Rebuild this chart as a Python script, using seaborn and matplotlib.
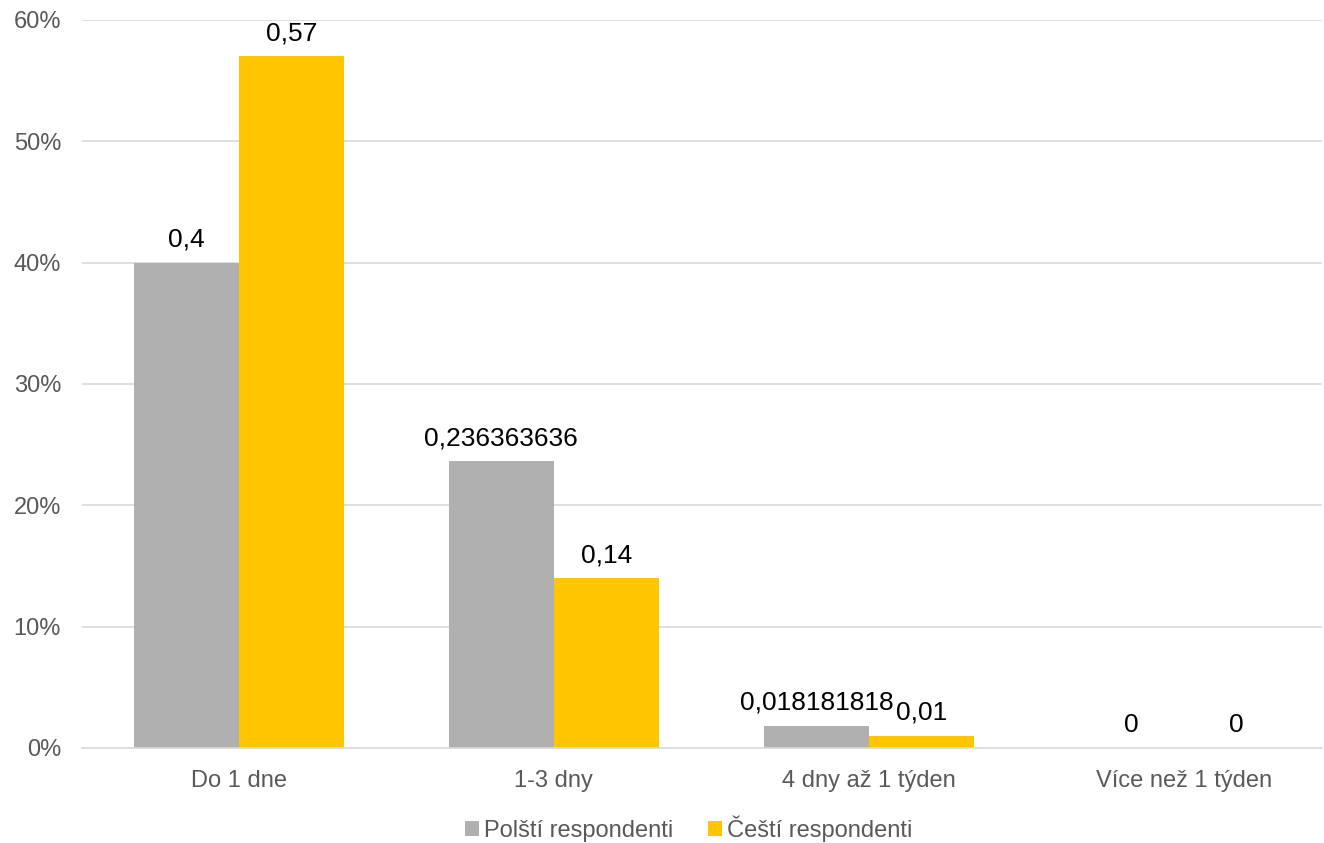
import matplotlib
matplotlib.use("Agg")
import matplotlib.pyplot as plt
from matplotlib.patches import Patch
import seaborn as sns
import pandas as pd

categories = ["Do 1 dne", "1-3 dny", "4 dny až 1 týden", "Více než 1 týden"]
series_names = ["Polští respondenti", "Čeští respondenti"]
polish = [0.4, 0.236363636, 0.018181818, 0.0]
czech = [0.57, 0.14, 0.01, 0.0]
polish_labels = ["0,4", "0,236363636", "0,018181818", "0"]
czech_labels = ["0,57", "0,14", "0,01", "0"]
y_ticks = [0.0, 0.1, 0.2, 0.3, 0.4, 0.5, 0.6]
y_tick_labels = ["0%", "10%", "20%", "30%", "40%", "50%", "60%"]

colors = ["#B0B0B0", "#FFC600"]

df = pd.DataFrame({
    "kategorie": categories * 2,
    "skupina": [series_names[0]] * 4 + [series_names[1]] * 4,
    "podil": polish + czech,
})

sns.set_theme(style="white")
plt.rcParams["font.family"] = ["Liberation Sans", "DejaVu Sans"]

fig = plt.figure(figsize=(13.24, 8.43), dpi=100)
ax = fig.add_axes([0.0619, 0.1127, 0.9366, 0.8636])

sns.barplot(data=df, x="kategorie", y="podil", hue="skupina",
            order=categories, hue_order=series_names,
            palette=colors, width=0.667, saturation=1, linewidth=0,
            ax=ax, legend=False)

ax.set_ylim(0, 0.6)
ax.set_xlim(-0.498, 3.438)
ax.set_yticks(y_ticks)
ax.set_yticklabels(y_tick_labels)
ax.yaxis.grid(True, color="#D9D9D9", linewidth=1.2)
ax.set_axisbelow(True)
for side in ["top", "right", "left"]:
    ax.spines[side].set_visible(False)
ax.spines["bottom"].set_color("#D9D9D9")
ax.spines["bottom"].set_linewidth(1.2)
ax.tick_params(axis="both", length=0, labelsize=17, colors="#595959")
ax.tick_params(axis="x", pad=16)
ax.tick_params(axis="y", pad=15)
ax.set_xlabel("")
ax.set_ylabel("")

# value labels above each bar
for container, labels in zip(ax.containers, [polish_labels, czech_labels]):
    ax.bar_label(container, labels=labels, padding=8, fontsize=19, color="#000000")

handles = [Patch(facecolor=c, edgecolor="none") for c in colors]
fig.legend(handles, series_names, loc="lower center", ncol=2, frameon=False,
           bbox_to_anchor=(0.52, -0.024), fontsize=17, labelcolor="#595959",
           handlelength=0.6, handleheight=0.6, handletextpad=0.2, columnspacing=1.48)

fig.savefig("out.png", dpi=100)
